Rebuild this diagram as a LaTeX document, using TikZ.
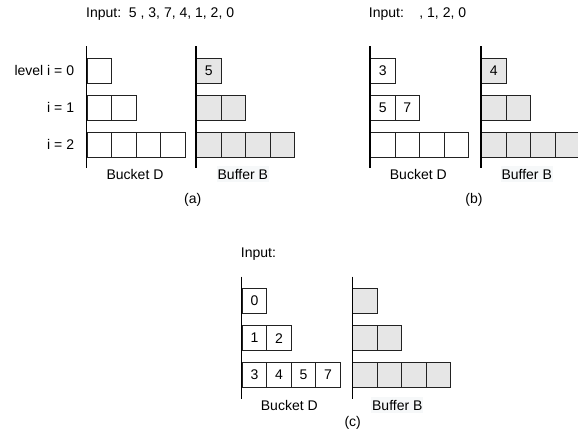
\documentclass[tikz,border=0pt]{standalone}
\usepackage{fontspec}
\setmainfont{Liberation Sans}
\definecolor{bufgray}{HTML}{E6E6E6}
\definecolor{edgecol}{HTML}{222222}
\definecolor{labelbg}{HTML}{F6F8F9}
\tikzset{
  txt/.style={font=\fontsize{14}{16}\selectfont, inner sep=0pt},
  cell/.style={txt, draw=edgecol, line width=0.9pt, minimum width=24.5pt,
    minimum height=24.8pt, anchor=north west},
  bufcell/.style={cell, fill=bufgray},
  axis/.style={draw=black, line width=1.1pt},
  buflabel/.style={txt, fill=labelbg, inner xsep=1pt, inner ysep=3pt},
}
% One stack of levels: 1, 2 and 4 cells, with an axis on its left.
% #1 name, #2 x of the axis, #3 y of the top row, #4 cell style, #5 the seven cell texts
\newcommand\levelstack[5]{%
  \coordinate (#1-top) at (#2, #3-11.7);
  \coordinate (#1-bot) at (#2, #3+110.6);
  \foreach \t [count=\k from 0] in {#5} {
    \pgfmathtruncatemacro\row{\k<1 ? 0 : (\k<3 ? 1 : 2)}
    \pgfmathtruncatemacro\col{\k<1 ? \k : (\k<3 ? \k-1 : \k-3)}
    \node[#4] (#1-\row-\col) at ({#2+\col*24.5}, {#3+\row*37}) {\t};
  }
  \draw[axis] (#1-top) -- (#1-bot);
}
\begin{document}
\begin{tikzpicture}[x=1pt, y=-1pt]
  \useasboundingbox (0,0) rectangle (578,442);

  % (a) initial state
  \node[txt, anchor=west] (inA) at (86,14.5) {Input:\ \ 5 , 3, 7, 4, 1, 2, 0};
  \levelstack{aD}{86.7}{57.7}{cell}{{},{},{},{},{},{},{}}
  \levelstack{aB}{196}{57.7}{bufcell}{5,{},{},{},{},{},{}}
  \node[txt, anchor=east] (lv0) at (74.3,70) {level i = 0};
  \node[txt, anchor=east] (lv1) at (74.3,107) {i = 1};
  \node[txt, anchor=east] (lv2) at (74.3,144.2) {i = 2};
  \node[txt] (aDl) at (135,174) {Bucket D};
  \node[buflabel] (aBl) at (242.8,174) {Buffer B};
  \node[txt] (capA) at (192.7,199.5) {(a)};

  % (b) after four insertions
  \node[txt, anchor=west] (inB) at (368.7,14.5) {Input:\hspace{15.5pt}, 1, 2, 0};
  \levelstack{bD}{370}{57.7}{cell}{3,5,7,{},{},{},{}}
  \levelstack{bB}{481}{57.7}{bufcell}{4,{},{},{},{},{},{}}
  \node[txt] (bDl) at (418.3,174) {Bucket D};
  \node[buflabel] (bBl) at (526.7,174) {Buffer B};
  \node[txt] (capB) at (474,199.5) {(b)};

  % (c) all elements inserted
  \node[txt, anchor=west] (inC) at (240.7,254) {Input:};
  \levelstack{cD}{241.7}{288.3}{cell}{0,1,2,3,4,5,7}
  \levelstack{cB}{352.3}{288.3}{bufcell}{{},{},{},{},{},{},{}}
  \node[txt] (cDl) at (289.3,405) {Bucket D};
  \node[buflabel] (cBl) at (397.3,405) {Buffer B};
  \node[txt] (capC) at (352.7,422.7) {(c)};
\end{tikzpicture}
\end{document}
